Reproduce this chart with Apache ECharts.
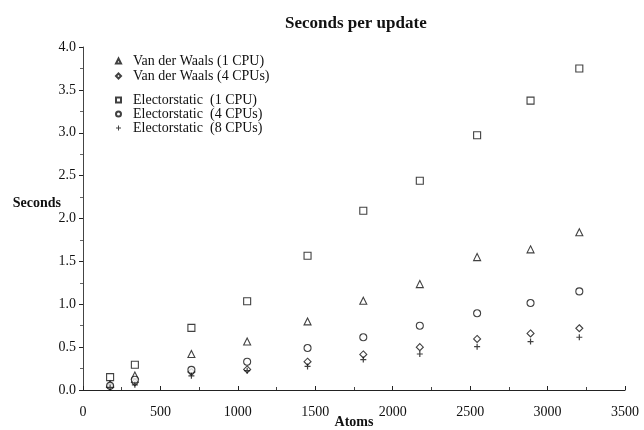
<!DOCTYPE html>
<html>
<head>
<meta charset="utf-8">
<script src="https://cdn.jsdelivr.net/npm/echarts@6/dist/echarts.min.js"></script>
<style>
html,body{margin:0;padding:0;background:#fff;}
#chart{width:644px;height:430px;}
</style>
</head>
<body>
<div id="chart"></div>
<script>
var atoms = [175, 335, 700, 1060, 1450, 1810, 2175, 2545, 2890, 3205];
var vdw1  = [0.07, 0.17, 0.42, 0.565, 0.80, 1.04, 1.235, 1.55, 1.64, 1.84];
var vdw4  = [0.04, 0.09, 0.21, 0.24, 0.33, 0.415, 0.50, 0.595, 0.66, 0.72];
var elec1 = [0.15, 0.295, 0.725, 1.035, 1.565, 2.09, 2.44, 2.97, 3.375, 3.75];
var elec4 = [0.05, 0.12, 0.235, 0.33, 0.49, 0.615, 0.75, 0.895, 1.015, 1.15];
var elec8 = [0.03, 0.06, 0.165, 0.225, 0.275, 0.355, 0.42, 0.505, 0.565, 0.615];

var names = ['Van der Waals (1 CPU)', 'Van der Waals (4 CPUs)',
             'Electorstatic \u00a0(1 CPU)', 'Electorstatic \u00a0(4 CPUs)', 'Electorstatic \u00a0(8 CPUs)'];
var plusPath = 'path://M4,0H6V4H10V6H6V10H4V6H0V4H4Z';

function pairs(ys){ return atoms.map(function(x,i){ return [x, ys[i]]; }); }

var serif = '"Liberation Serif", "DejaVu Serif", serif';
var hollow = {color:'#fff', borderColor:'#111', borderWidth:1.1};

function mk(name, ys, symbol, size, style){
  return {type:'scatter', name:name, data:pairs(ys), symbol:symbol, symbolSize:size,
          itemStyle:style, emphasis:{disabled:true}, animation:false};
}

var legendText = {fontFamily:serif, fontSize:14, color:'#111', lineHeight:14, padding:[0,0,0,7]};

var chart = echarts.init(document.getElementById('chart'), null, {renderer:'canvas'});
chart.setOption({
  backgroundColor:'#fff',
  animation:false,
  title:{text:'Seconds per update', left:280, top:10,
    textStyle:{fontFamily:serif, fontWeight:'bold', fontSize:17, color:'#111'}},
  legend:[
    {data:[names[0], names[1]], orient:'vertical', left:110, top:49, itemGap:1,
     itemWidth:5, itemHeight:5, textStyle:legendText},
    {data:[names[2], names[3], names[4]], orient:'vertical', left:110, top:88, itemGap:0,
     itemWidth:5, itemHeight:5, textStyle:legendText}
  ],
  grid:{left:83, right:19, top:47, bottom:40, containLabel:false, outerBoundsMode:'none'},
  xAxis:{type:'value', min:0, max:3500, interval:500,
    name:'Atoms', nameLocation:'middle', nameGap:25, nameMoveOverlap:false,
    nameTextStyle:{fontFamily:serif, fontWeight:'bold', fontSize:14, color:'#111'},
    axisLine:{lineStyle:{color:'#222', width:1.2}},
    axisTick:{inside:true, length:4, lineStyle:{color:'#222'}},
    minorTick:{show:true, splitNumber:2, length:3, lineStyle:{color:'#444'}},
    splitLine:{show:false},
    axisLabel:{fontFamily:serif, fontSize:14, color:'#111', margin:15,
      formatter:function(v){ return String(v); }}},
  yAxis:{type:'value', min:0, max:4, interval:0.5,
    name:'Seconds', nameLocation:'middle', nameRotate:0, nameGap:22, nameMoveOverlap:false,
    nameTextStyle:{fontFamily:serif, fontWeight:'bold', fontSize:14, color:'#111',
      verticalAlign:'bottom', padding:[0,0,8,0]},
    axisLine:{show:true, lineStyle:{color:'#444', width:1}},
    axisTick:{show:true, length:4, lineStyle:{color:'#222'}},
    minorTick:{show:true, splitNumber:2, length:3, lineStyle:{color:'#666'}},
    splitLine:{show:false},
    axisLabel:{fontFamily:serif, fontSize:14, color:'#111', margin:7,
      formatter:function(v){ return v.toFixed(1); }}},
  series:[
    mk(names[0], vdw1, 'triangle', 7, hollow),
    mk(names[1], vdw4, 'diamond', 7, hollow),
    mk(names[2], elec1, 'rect', 7, hollow),
    mk(names[3], elec4, 'circle', 7, hollow),
    mk(names[4], elec8, plusPath, 6, {color:'#111'})
  ]
});
</script>
</body>
</html>
